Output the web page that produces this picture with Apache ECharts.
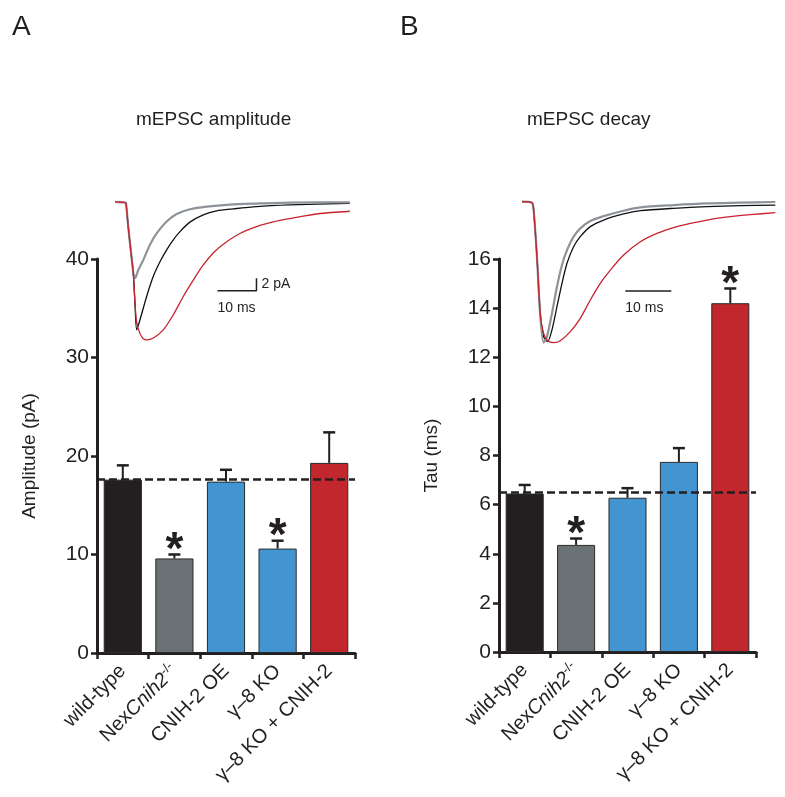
<!DOCTYPE html>
<html>
<head>
<meta charset="utf-8">
<script src="https://cdn.jsdelivr.net/npm/echarts@6/dist/echarts.min.js"></script>
<style>html,body{margin:0;padding:0;background:#fff}#c{width:785px;height:797px}</style>
</head>
<body>
<div id="c"></div>
<script>
// ---------- data ----------
const categories = ['wild-type', 'NexCnih2-/-', 'CNIH-2 OE', 'γ–8 KO', 'γ–8 KO + CNIH-2'];
const barColors = ['#231f20', '#6b7276', '#4395d1', '#4395d1', '#c1272d'];

const ampMean = [17.6, 9.6, 17.4, 10.6, 19.3];
const ampSem  = [1.45, 0.4, 1.2, 0.8, 3.1];
const ampSig  = [0, 1, 0, 1, 0];
const ampRef  = 17.6;

const tauMean = [6.45, 4.36, 6.28, 7.74, 14.2];
const tauSem  = [0.35, 0.26, 0.39, 0.56, 0.6];
const tauSig  = [0, 1, 0, 0, 1];
const tauRef  = 6.5;

const ampTicks = {min: 0, max: 40, interval: 10};
const tauTicks = {min: 0, max: 16, interval: 2};

// mEPSC traces, panel A: [time (ms), current (pA)]
const traceA_gray = [[0,0.1],[2.56,0],[2.82,-0.1],[3.42,-4.0],[4.27,-8.8],[4.7,-11.2],[5.13,-12.0],[5.98,-10.7],[7.26,-9.1],[8.97,-6.7],[10.68,-4.9],[13.25,-3.0],[15.81,-1.8],[19.23,-1.05],[23.5,-0.63],[29.49,-0.31],[36.32,-0.15],[44.87,0],[60.26,0.05]];
const traceA_black = [[0,0.1],[2.56,0],[2.82,-0.1],[3.42,-4.0],[4.27,-8.8],[4.7,-11.2],[5.13,-16.0],[5.56,-20.2],[6.41,-18.6],[8.12,-14.9],[9.83,-11.7],[11.54,-9.4],[13.25,-7.5],[14.96,-5.9],[16.67,-4.6],[19.23,-3.1],[22.65,-1.95],[26.07,-1.32],[30.34,-1.0],[36.32,-0.63],[44.87,-0.37],[60.26,-0.1]];
const traceA_red = [[0,0.1],[2.56,0],[2.82,-0.1],[3.42,-4.0],[4.27,-8.8],[4.7,-11.2],[5.13,-16.0],[5.56,-19.0],[6.41,-20.8],[7.26,-21.6],[8.12,-21.8],[9.83,-21.5],[12.39,-20.2],[14.96,-17.8],[17.52,-14.9],[20.09,-12.3],[22.65,-9.9],[25.21,-8.0],[27.78,-6.6],[32.05,-4.9],[36.32,-3.8],[40.6,-3.06],[44.87,-2.53],[49.15,-2.06],[53.42,-1.69],[60.26,-1.37]];

// mEPSC traces, panel B (peak-normalised): [time (ms), % of peak]
const traceB_gray = [[0,0],[2.17,-0.7],[2.53,-5.9],[3.25,-39],[3.98,-81.6],[4.7,-100],[5.43,-95.7],[6.51,-79.2],[7.6,-60.3],[8.69,-44.9],[9.78,-34.3],[11.22,-24.8],[12.67,-18.9],[14.85,-13.7],[17.75,-10.2],[22.09,-6.4],[25.72,-4.0],[32.96,-2.4],[40.21,-1.2],[47.46,-0.7],[55.07,-0.2]];
const traceB_black = [[0,0],[2.17,-0.7],[2.53,-5.9],[3.25,-39],[3.98,-79.4],[4.7,-95.7],[5.57,-99.3],[6.51,-91],[7.6,-74.5],[8.69,-57.9],[9.78,-43.7],[11.22,-31.9],[12.67,-24.8],[14.85,-17.7],[17.75,-13.0],[22.09,-8.7],[25.72,-6.4],[32.96,-4.7],[40.21,-3.5],[47.46,-2.8],[55.07,-2.4]];
const traceB_red = [[0,0],[2.17,-0.7],[2.53,-5.9],[3.25,-39],[3.98,-80.4],[4.7,-93.4],[5.57,-98.6],[6.88,-100],[8.33,-98.6],[10.5,-92.2],[12.67,-82.7],[14.85,-69.7],[17.02,-57.9],[19.2,-48.5],[22.09,-37.8],[25.72,-28.4],[29.34,-22.5],[32.96,-18.4],[36.59,-15.4],[40.21,-13.0],[43.83,-11.1],[49.63,-9.2],[55.07,-7.8]];

// scale bars (data units)
const scaleA = {t0: 26.3, i0: -14.0, dt: 10, di: 2};
const scaleB = {t0: 22.46, i0: -63.3, dt: 10};
const scaleLabelsA = ['2 pA', '10 ms'];
const scaleLabelsB = ['10 ms'];

// ---------- styles ----------
const FONT = '"Liberation Sans", Arial, Helvetica, sans-serif';
const INK = '#231f20';

function errRender(params, api) {
  const i = api.value(0), m = api.value(1), s = api.value(2);
  const p0 = api.coord([i, m]);
  const p1 = api.coord([i, m + s]);
  const hw = 6;
  return {type: 'group', children: [
    {type: 'line', shape: {x1: p0[0], y1: p0[1], x2: p1[0], y2: p1[1]}, style: {stroke: INK, lineWidth: 2}},
    {type: 'line', shape: {x1: p1[0] - hw, y1: p1[1], x2: p1[0] + hw, y2: p1[1]}, style: {stroke: INK, lineWidth: 2.5}}
  ]};
}
function starRender(params, api) {
  const p = api.coord([api.value(0), api.value(1)]);
  return {type: 'text', x: p[0], y: p[1] - 3,
    style: {text: '*', fontSize: 46, fontWeight: 'bold', fontFamily: FONT, fill: INK, align: 'center', verticalAlign: 'middle'}};
}
function labelRender(texts, aligns) {
  return function (params, api) {
    const p = api.coord([api.value(0), api.value(1)]);
    const a = aligns[params.dataIndex];
    return {type: 'text', x: p[0] + a[0], y: p[1] + a[1],
      style: {text: texts[params.dataIndex], fontSize: 14, fontFamily: FONT, fill: INK, align: 'left', verticalAlign: 'middle'}};
  };
}

function catAxis(gridIndex) {
  return {
    type: 'category', gridIndex, data: categories,
    axisLine: {lineStyle: {color: INK, width: 3}},
    axisTick: {show: true, length: 6, lineStyle: {color: INK, width: 2.5}},
    axisLabel: {
      rotate: 45, margin: 15, fontSize: 20, color: INK, fontFamily: FONT, interval: 0,
      formatter: (v, idx) => idx === 1 ? '{n|Nex}{i|Cnih2}{s|-/-}' : v,
      rich: {
        n: {fontSize: 20, color: INK, fontFamily: FONT},
        i: {fontSize: 20, color: INK, fontFamily: FONT, fontStyle: 'italic'},
        s: {fontSize: 13, color: INK, fontFamily: FONT, verticalAlign: 'top', padding: [0, 0, 10, 0]}
      }
    }
  };
}
function valAxis(gridIndex, ticks, name) {
  return {
    type: 'value', gridIndex, min: ticks.min, max: ticks.max, interval: ticks.interval,
    name, nameLocation: 'middle', nameGap: 58, nameRotate: 90,
    nameTextStyle: {fontSize: 19, color: INK, fontFamily: FONT},
    axisLine: {show: true, lineStyle: {color: INK, width: 3}},
    axisTick: {show: true, length: 6, lineStyle: {color: INK, width: 2.5}},
    axisLabel: {fontSize: 21, color: INK, fontFamily: FONT, margin: 8},
    splitLine: {show: false}
  };
}

function barSeries(axisIdx, mean, ref) {
  return {
    type: 'bar', xAxisIndex: axisIdx, yAxisIndex: axisIdx, barWidth: '74%',
    data: mean.map((v, i) => ({value: v, itemStyle: {color: barColors[i]}})),
    itemStyle: {borderColor: '#2a2a2a', borderWidth: 1},
    markLine: {silent: true, symbol: ['none', 'none'], label: {show: false},
      lineStyle: {type: [8, 4], width: 2.5, color: INK}, data: [{yAxis: ref}]},
    z: 2
  };
}
function errSeries(axisIdx, mean, sem) {
  return {type: 'custom', xAxisIndex: axisIdx, yAxisIndex: axisIdx, renderItem: errRender,
    data: mean.map((v, i) => [i, v, sem[i]]), z: 3, clip: false};
}
function starSeries(axisIdx, mean, sem, sig) {
  const d = [];
  sig.forEach((s, i) => { if (s) d.push([i, mean[i] + sem[i]]); });
  return {type: 'custom', xAxisIndex: axisIdx, yAxisIndex: axisIdx, renderItem: starRender, data: d, z: 4, clip: false};
}
function traceSeries(axisIdx, data, color, width) {
  return {type: 'line', xAxisIndex: axisIdx, yAxisIndex: axisIdx, data, showSymbol: false, symbol: 'none',
    smooth: 0.25, lineStyle: {color, width}, clip: false, z: 5};
}

const chart = echarts.init(document.getElementById('c'), null, {renderer: 'canvas'});
chart.setOption({
  animation: false,
  textStyle: {fontFamily: FONT},
  title: [
    {text: 'A', left: 7, top: 8, textStyle: {fontSize: 28, fontWeight: 'normal', color: INK, fontFamily: FONT}},
    {text: 'B', left: 395, top: 8, textStyle: {fontSize: 28, fontWeight: 'normal', color: INK, fontFamily: FONT}},
    {text: 'mEPSC amplitude', left: 131, top: 105, textStyle: {fontSize: 19, fontWeight: 'normal', color: INK, fontFamily: FONT}},
    {text: 'mEPSC decay', left: 522, top: 105, textStyle: {fontSize: 19, fontWeight: 'normal', color: INK, fontFamily: FONT}}
  ],
  grid: [
    {left: 97, top: 259, width: 258, height: 394},
    {left: 499, top: 259, width: 257, height: 393},
    {left: 115, top: 190, width: 235, height: 160},
    {left: 522, top: 190, width: 253, height: 160}
  ],
  xAxis: [
    catAxis(0), catAxis(1),
    {type: 'value', gridIndex: 2, min: 0, max: 60.3, show: false},
    {type: 'value', gridIndex: 3, min: 0, max: 55, show: false}
  ],
  yAxis: [
    valAxis(0, ampTicks, 'Amplitude (pA)'),
    valAxis(1, tauTicks, 'Tau (ms)'),
    {type: 'value', gridIndex: 2, min: -23.4, max: 2.0, show: false},
    {type: 'value', gridIndex: 3, min: -105.2, max: 8.3, show: false}
  ],
  series: [
    barSeries(0, ampMean, ampRef), errSeries(0, ampMean, ampSem), starSeries(0, ampMean, ampSem, ampSig),
    barSeries(1, tauMean, tauRef), errSeries(1, tauMean, tauSem), starSeries(1, tauMean, tauSem, tauSig),
    traceSeries(2, traceA_black, '#111111', 1.3),
    traceSeries(2, traceA_gray, '#8d9398', 2.2),
    traceSeries(2, traceA_red, '#c8232c', 1.3),
    traceSeries(3, traceB_black, '#111111', 1.3),
    traceSeries(3, traceB_gray, '#8d9398', 2.2),
    traceSeries(3, traceB_red, '#c8232c', 1.3),
    // scale bars
    {type: 'line', xAxisIndex: 2, yAxisIndex: 2, symbol: 'none', showSymbol: false, clip: false, z: 5,
      lineStyle: {color: INK, width: 1.5},
      data: [[scaleA.t0, scaleA.i0], [scaleA.t0 + scaleA.dt, scaleA.i0], [scaleA.t0 + scaleA.dt, scaleA.i0 + scaleA.di]]},
    {type: 'custom', xAxisIndex: 2, yAxisIndex: 2, z: 5, clip: false,
      renderItem: labelRender(scaleLabelsA, [[5, 0], [0, 17]]),
      data: [[scaleA.t0 + scaleA.dt, scaleA.i0 + scaleA.di / 2], [scaleA.t0, scaleA.i0]]},
    {type: 'line', xAxisIndex: 3, yAxisIndex: 3, symbol: 'none', showSymbol: false, clip: false, z: 5,
      lineStyle: {color: INK, width: 1.5},
      data: [[scaleB.t0, scaleB.i0], [scaleB.t0 + scaleB.dt, scaleB.i0]]},
    {type: 'custom', xAxisIndex: 3, yAxisIndex: 3, z: 5, clip: false,
      renderItem: labelRender(scaleLabelsB, [[0, 17]]),
      data: [[scaleB.t0, scaleB.i0]]}
  ]
});
</script>
</body>
</html>
